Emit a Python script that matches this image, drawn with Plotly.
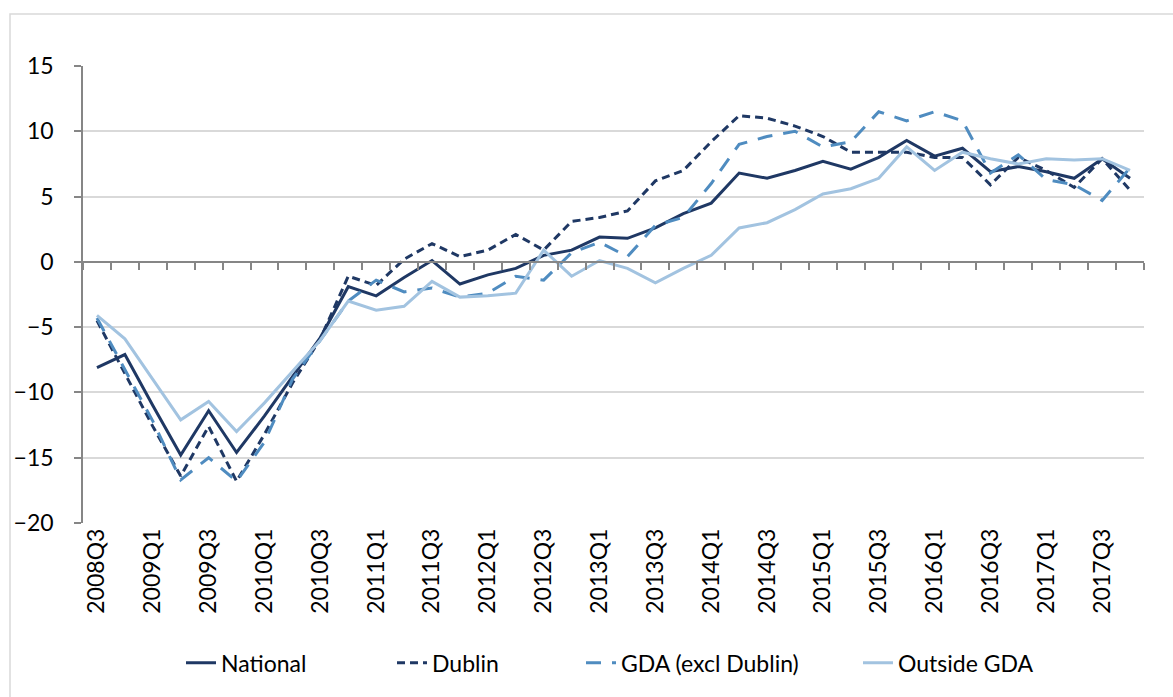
import plotly.graph_objects as go

# Quarterly series, 2008Q3 - 2017Q4 (annual % change)
quarters = [
    "2008Q3", "2008Q4", "2009Q1", "2009Q2", "2009Q3", "2009Q4",
    "2010Q1", "2010Q2", "2010Q3", "2010Q4", "2011Q1", "2011Q2",
    "2011Q3", "2011Q4", "2012Q1", "2012Q2", "2012Q3", "2012Q4",
    "2013Q1", "2013Q2", "2013Q3", "2013Q4", "2014Q1", "2014Q2",
    "2014Q3", "2014Q4", "2015Q1", "2015Q2", "2015Q3", "2015Q4",
    "2016Q1", "2016Q2", "2016Q3", "2016Q4", "2017Q1", "2017Q2",
    "2017Q3", "2017Q4",
]

national = [
    -8.1, -7.1, -11.0, -14.8, -11.4, -14.6, -11.8, -8.8, -5.8, -1.9,
    -2.6, -1.2, 0.1, -1.7, -1.0, -0.5, 0.5, 0.9, 1.9, 1.8,
    2.6, 3.7, 4.5, 6.8, 6.4, 7.0, 7.7, 7.1, 8.0, 9.3,
    8.1, 8.7, 6.9, 7.3, 6.9, 6.4, 7.9, 6.4,
]

dublin = [
    -4.5, -8.6, -12.6, -16.4, -12.6, -16.8, -13.2, -9.3, -5.9, -1.1,
    -1.8, 0.2, 1.4, 0.4, 0.9, 2.1, 0.9, 3.1, 3.4, 3.9,
    6.2, 7.0, 9.2, 11.2, 11.0, 10.4, 9.6, 8.4, 8.4, 8.4,
    8.0, 8.0, 5.9, 8.0, 7.0, 5.7, 7.9, 5.5,
]

gda_excl_dublin = [
    -4.3, -8.3, -12.2, -16.7, -15.0, -16.8, -13.8, -9.0, -6.0, -3.0,
    -1.4, -2.3, -2.0, -2.7, -2.4, -1.1, -1.4, 0.7, 1.5, 0.4,
    2.8, 3.4, 6.0, 9.0, 9.6, 10.0, 8.8, 9.2, 11.5, 10.8,
    11.5, 10.8, 6.8, 8.2, 6.3, 5.9, 4.7, 7.2,
]

outside_gda = [
    -4.1, -5.9, -9.0, -12.1, -10.7, -13.0, -10.8, -8.4, -6.0, -3.0,
    -3.7, -3.4, -1.5, -2.7, -2.6, -2.4, 0.9, -1.1, 0.1, -0.5,
    -1.6, -0.5, 0.5, 2.6, 3.0, 4.0, 5.2, 5.6, 6.4, 8.8,
    7.0, 8.4, 7.9, 7.5, 7.9, 7.8, 7.9, 7.0,
]

# every second quarter is labelled on the category axis
tick_labels = quarters[::2]
y_ticks = [-20, -15, -10, -5, 0, 5, 10, 15]

FONT = "Lato"
FONT_SIZE = 23
NAVY = "#1f3864"
MID_BLUE = "#4f8cc0"
LIGHT_BLUE = "#a2c3e0"
AXIS_GREY = "#868686"
GRID_GREY = "#d9d9d9"
PAGE_W = 1173

# name, values, colour, dash, left edge of its legend entry (px)
series = [
    ("National", national, NAVY, "solid", 181),
    ("Dublin", dublin, NAVY, "8px,5px", 392),
    ("GDA (excl Dublin)", gda_excl_dublin, MID_BLUE, "15px,11px", 581),
    ("Outside GDA", outside_gda, LIGHT_BLUE, "solid", 858),
]

tick_font = dict(family=FONT, size=FONT_SIZE, color="black")

fig = go.Figure()
legends = {}
for k, (name, values, color, dash, legend_left) in enumerate(series):
    legend_id = "legend" if k == 0 else f"legend{k + 1}"
    fig.add_trace(go.Scatter(
        x=quarters, y=values, name=name, mode="lines",
        line=dict(color=color, width=3, dash=dash),
        hoverinfo="skip", legend=legend_id,
    ))
    legends[legend_id] = dict(
        orientation="h", xref="container", yref="container",
        x=legend_left / PAGE_W, xanchor="left", y=0.049, yanchor="middle",
        font=tick_font, bgcolor="rgba(0,0,0,0)",
    )

fig.update_layout(
    width=PAGE_W, height=697,
    margin=dict(l=83, r=29, t=66, b=174),
    paper_bgcolor="white", plot_bgcolor="white",
    font=tick_font,
    showlegend=True,
    xaxis=dict(
        type="category", categoryorder="array", categoryarray=quarters,
        range=[-0.5, len(quarters) - 0.5],
        tickmode="array", tickvals=tick_labels, ticktext=tick_labels,
        tickangle=-90, showgrid=False, showline=False, ticks="",
        zeroline=False, tickfont=tick_font, fixedrange=True,
    ),
    # category axis line and boundary ticks drawn along the zero line
    xaxis2=dict(
        type="category", categoryorder="array", categoryarray=quarters,
        range=[-0.5, len(quarters) - 0.5],
        overlaying="x", anchor="free", position=20 / 35, side="bottom",
        showline=True, linecolor=AXIS_GREY, linewidth=1.5,
        ticks="outside", ticklen=7, tickwidth=1.5, tickcolor=AXIS_GREY,
        tickson="boundaries", dtick=1, showticklabels=False,
        showgrid=False, zeroline=False, fixedrange=True,
    ),
    yaxis=dict(
        range=[-20, 15], tickmode="array", tickvals=y_ticks,
        showgrid=True, gridcolor=GRID_GREY, gridwidth=1.5,
        showline=True, linecolor=AXIS_GREY, linewidth=1.5,
        ticks="outside", ticklen=7, tickwidth=1.5, tickcolor=AXIS_GREY,
        zeroline=False, ticklabelstandoff=16,
        tickfont=tick_font, fixedrange=True,
    ),
    shapes=[
        # chart frame
        dict(type="rect", xref="paper", yref="paper",
             x0=(10 - 83) / 1061, x1=1.2, y0=-0.6, y1=(523 - 14) / 457,
             line=dict(color=GRID_GREY, width=1.5), fillcolor="rgba(0,0,0,0)",
             layer="below"),
    ],
    **legends,
)

# invisible carrier so the overlay axis gets its category ticks
fig.add_trace(go.Scatter(
    x=quarters, y=[None] * len(quarters), xaxis="x2", yaxis="y",
    showlegend=False, hoverinfo="skip", mode="lines",
))

fig.write_html("out.html")
